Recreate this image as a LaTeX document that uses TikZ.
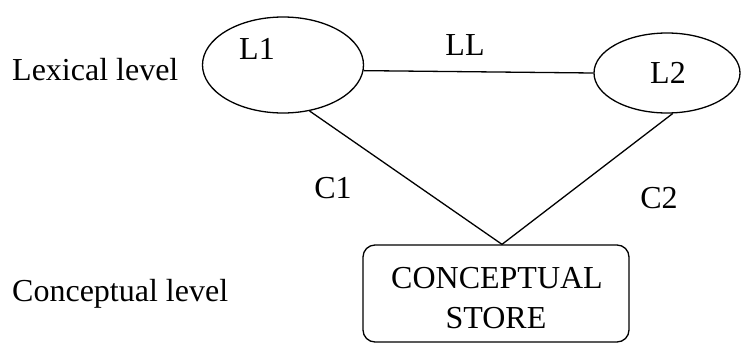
\documentclass[tikz,border=0pt]{standalone}
\usepackage{fontspec}
\setmainfont{Liberation Serif}
\usetikzlibrary{shapes.geometric}
\begin{document}
\begin{tikzpicture}[x=1pt,y=-1pt,
  txt/.style={font=\fontsize{32}{40}\selectfont, inner sep=0pt, anchor=base},
  link/.style={draw=black, line width=1.3pt},
  oval/.style={draw, ellipse, line width=1.3pt, inner sep=0pt},
  storebox/.style={draw, rounded corners=12pt, line width=1.3pt, inner sep=0pt}]
\useasboundingbox (0,0) rectangle (741,343);
\node[oval, minimum width=161pt, minimum height=96pt] (L1) at (283,65) {};
\node[oval, minimum width=146pt, minimum height=80pt] (L2) at (667,73) {};
\node[storebox, minimum width=266pt, minimum height=97pt] (store) at (496,293.5) {};
\node[txt, anchor=base west] (lex) at (12,80) {Lexical level};
\node[txt] (l1t) at (257,59) {L1};
\node[txt] (llt) at (465,55) {LL};
\node[txt] (l2t) at (668,83) {L2};
\node[txt] (c1t) at (333,198) {C1};
\node[txt] (c2t) at (659,208) {C2};
\node[txt, anchor=base west] (conc) at (12,301) {Conceptual level};
\node[txt] (cs1) at (497,288) {CONCEPTUAL};
\node[txt] (cs2) at (496,328) {STORE};
\coordinate (top) at ([xshift=6pt]store.north);
\draw[link] (L1.-4) -- (L2.west);
\draw[link] (L1.-60) -- (top);
\draw[link] (L2.-82) -- (top);
\end{tikzpicture}
\end{document}
